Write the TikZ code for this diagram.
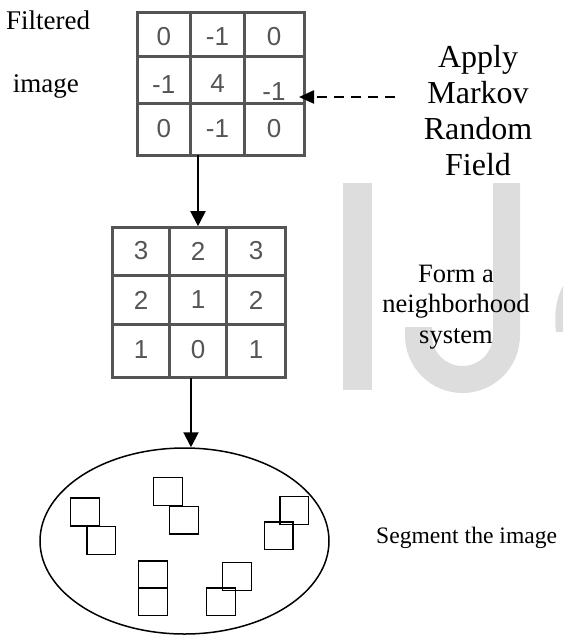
\documentclass[tikz,border=0pt]{standalone}
\usepackage{fontspec}
\setmainfont{Liberation Serif}
\newfontfamily\digitfont{Liberation Sans}
\usetikzlibrary{arrows.meta,shapes.geometric}
\definecolor{gridgray}{RGB}{85,85,85}
\definecolor{wmgray}{RGB}{221,221,221}
\begin{document}
\begin{tikzpicture}[x=1pt,y=-1pt,
  gridbox/.style={draw=gridgray,line width=3pt,inner sep=0pt},
  gridline/.style={draw=gridgray,line width=3pt},
  digit/.style={font=\digitfont\fontsize{26}{26}\selectfont,text=gridgray,inner sep=0pt},
  lbl/.style={inner sep=0pt,align=center},
  arr/.style={draw=black,line width=2pt,-{Triangle[length=15pt,width=15pt]}},
  darr/.style={draw=black,line width=2.2pt,dash pattern=on 10pt off 7pt,-{Triangle[length=15pt,width=13pt]}},
  sq/.style={draw=black,line width=1.5pt},
]
\useasboundingbox (0,0) rectangle (563,638);
% watermark
\fill[wmgray] (343,183) rectangle (372,390);
\fill[wmgray] (493,183) -- (520,183) -- (520,335.5)
  arc[start angle=0,end angle=-180,radius=57.5pt] -- (405,327) -- (432,327) -- (432,335.5)
  arc[start angle=180,end angle=360,radius=30.5pt] -- cycle;
\fill[wmgray] (563,286) .. controls (556,298) and (554,315) .. (556,332) -- (563,332) -- cycle;
% top grid
\node[gridbox,minimum width=167pt,minimum height=142.3pt] (topgrid) at (220.5,83.85) {};
\draw[gridline] (190.5,12.7) -- (190.5,155);
\draw[gridline] (244.5,12.7) -- (244.5,155);
\draw[gridline] (137,56.7) -- (304,56.7);
\draw[gridline] (137,103.3) -- (304,103.3);
\node[digit] (t11) at (163.8,37) {0};
\node[digit] (t12) at (217.5,37) {-1};
\node[digit] (t13) at (274,37) {0};
\node[digit] (t21) at (163.8,85) {-1};
\node[digit] (t22) at (217.5,84) {4};
\node[digit] (t23) at (274,92) {-1};
\node[digit] (t31) at (163.8,128.5) {0};
\node[digit] (t32) at (217.5,128.5) {-1};
\node[digit] (t33) at (274,128.5) {0};
% middle grid
\node[gridbox,minimum width=172.3pt,minimum height=150pt] (midgrid) at (198.85,302.7) {};
\draw[gridline] (169,227.7) -- (169,377.7);
\draw[gridline] (226.5,227.7) -- (226.5,377.7);
\draw[gridline] (112.7,275.7) -- (285,275.7);
\draw[gridline] (112.7,324) -- (285,324);
\node[digit] (m11) at (141,251) {3};
\node[digit] (m12) at (198,251) {2};
\node[digit] (m13) at (256,251) {3};
\node[digit] (m21) at (141,300) {2};
\node[digit] (m22) at (198,300) {1};
\node[digit] (m23) at (256,300) {2};
\node[digit] (m31) at (141,350) {1};
\node[digit] (m32) at (198,350) {0};
\node[digit] (m33) at (256,350) {1};
% ellipse
\node[ellipse,draw=black,line width=1.5pt,minimum width=289pt,minimum height=186pt,inner sep=0pt] (seg) at (184.5,541) {};
\draw[sq] (70.7,498) rectangle (99.3,526);
\draw[sq] (87,526.7) rectangle (115.7,554.3);
\draw[sq] (153.3,477.7) rectangle (182.3,505.3);
\draw[sq] (169.7,506.3) rectangle (198.3,534);
\draw[sq] (280,496.7) rectangle (308.7,524.3);
\draw[sq] (264.3,522) rectangle (293,549.7);
\draw[sq] (138.7,561) rectangle (167.3,588);
\draw[sq] (138.7,588) rectangle (167.3,615.7);
\draw[sq] (222.7,562.7) rectangle (251.3,590.3);
\draw[sq] (206.7,588) rectangle (235.3,615.7);
% labels
\node[lbl,anchor=base west,font=\fontsize{27}{32}\selectfont] (filt) at (6,29) {Filtered};
\node[lbl,anchor=base west,font=\fontsize{27}{32}\selectfont] (img) at (12.7,92) {image};
\node[lbl,font=\fontsize{32}{36}\selectfont] (mrf) at (478,110.5) {Apply\\Markov\\Random\\Field};
\node[lbl,font=\fontsize{26.5}{30.5}\selectfont] (nbr) at (456,306.7) {Form a\\neighborhood\\system};
\node[lbl,anchor=base west,font=\fontsize{23.6}{28}\selectfont] (segt) at (376,543) {Segment the image};
% connectors
\coordinate (a1) at (198,155);
\coordinate (a2) at (191,377.7);
\coordinate (dstart) at (395,97);
\coordinate (dend) at (299,97);
\draw[arr] (a1) -- (a1 |- midgrid.north);
\draw[arr] (a2) -- (a2 |- seg.north);
\draw[darr] (dstart) -- (dend);
\end{tikzpicture}
\end{document}
